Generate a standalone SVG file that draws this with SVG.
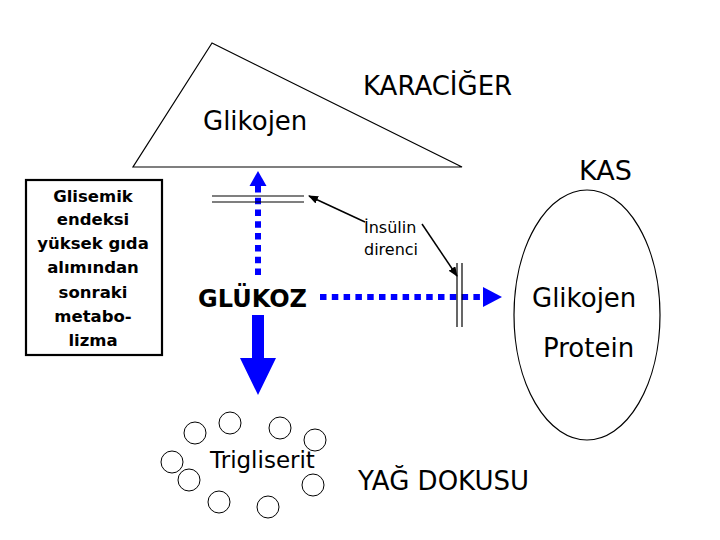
<svg xmlns="http://www.w3.org/2000/svg" width="720" height="540" viewBox="0 0 720 540">
<style>
text{font-family:"DejaVu Sans","Liberation Sans",sans-serif;fill:#000}
.thin{fill:none;stroke:#000;stroke-width:1.2}
.dot{fill:none;stroke:#0000ff;stroke-width:6;stroke-dasharray:6.5 5.3}
.blue{fill:#0000ff;stroke:none}
.ptr{fill:none;stroke:#000;stroke-width:1.5}
.cell{fill:#fff;stroke:#000;stroke-width:1}
.lbl{font-size:26px}
.box{font-size:16.5px;font-weight:bold}
</style>
<defs>
<marker id="ah" markerWidth="10" markerHeight="8" refX="9" refY="4" orient="auto" markerUnits="userSpaceOnUse">
<path d="M0,0 L10,4 L0,8 z" fill="#000"/>
</marker>
</defs>
<rect width="720" height="540" fill="#fff"/>

<g id="karaciger">
<polygon class="thin" points="212,43 133,167 462,167"/>
<text class="lbl" x="363" y="95" font-size="27">KARACİĞER</text>
<text class="lbl" x="203" y="130">Glikojen</text>
</g>

<g id="glisemik-kutu">
<rect x="26" y="180" width="136" height="175" fill="#fff" stroke="#000" stroke-width="2.2"/>
<g class="box" text-anchor="middle">
<text x="93" y="202">Glisemik</text>
<text x="93" y="225">endeksi</text>
<text x="93" y="249">yüksek gıda</text>
<text x="93" y="273">alımından</text>
<text x="93" y="298">sonraki</text>
<text x="93" y="322">metabo-</text>
<text x="93" y="346">lizma</text>
</g>
</g>

<g id="glukoz">
<text x="198" y="307" font-size="24" font-weight="bold">GLÜKOZ</text>
</g>

<g id="insulin-direnci">
<text x="364" y="233" font-size="16">İnsülin</text>
<text x="364" y="255" font-size="16">direnci</text>
</g>

<g id="kas">
<ellipse class="thin" cx="587" cy="315" rx="73" ry="125"/>
<text x="579" y="180" font-size="27">KAS</text>
<text class="lbl" x="532" y="307">Glikojen</text>
<text class="lbl" x="543" y="357">Protein</text>
</g>

<g id="yag-dokusu">
<circle class="cell" cx="230" cy="423" r="11"/>
<circle class="cell" cx="195" cy="433" r="11"/>
<circle class="cell" cx="280" cy="428" r="11"/>
<circle class="cell" cx="315" cy="440" r="11"/>
<circle class="cell" cx="172" cy="462" r="11"/>
<circle class="cell" cx="189" cy="480" r="11"/>
<circle class="cell" cx="313" cy="485" r="11"/>
<circle class="cell" cx="219" cy="502" r="11"/>
<circle class="cell" cx="268" cy="507" r="11"/>
<text x="210" y="468" font-size="23">Trigliserit</text>
<text class="lbl" x="358" y="490">YAĞ DOKUSU</text>
</g>

<g id="connectors">
<line class="dot" x1="258" y1="275" x2="258" y2="185"/>
<polygon class="blue" points="258,171 249.5,186 266.5,186"/>
<line class="thin" x1="212" y1="196" x2="304" y2="196"/>
<line class="thin" x1="212" y1="202" x2="304" y2="202"/>
<line class="dot" x1="320" y1="297" x2="484" y2="297"/>
<polygon class="blue" points="502,297 483,287 483,307"/>
<line class="thin" x1="457" y1="263" x2="457" y2="327"/>
<line class="thin" x1="462" y1="263" x2="462" y2="327"/>
<polygon class="blue" points="252,315 264,315 264,358 276,358 258,395 240,358 252,358"/>
<line class="ptr" x1="365" y1="222" x2="309" y2="196" marker-end="url(#ah)"/>
<line class="ptr" x1="422" y1="224" x2="457" y2="276" marker-end="url(#ah)"/>
</g>
</svg>
